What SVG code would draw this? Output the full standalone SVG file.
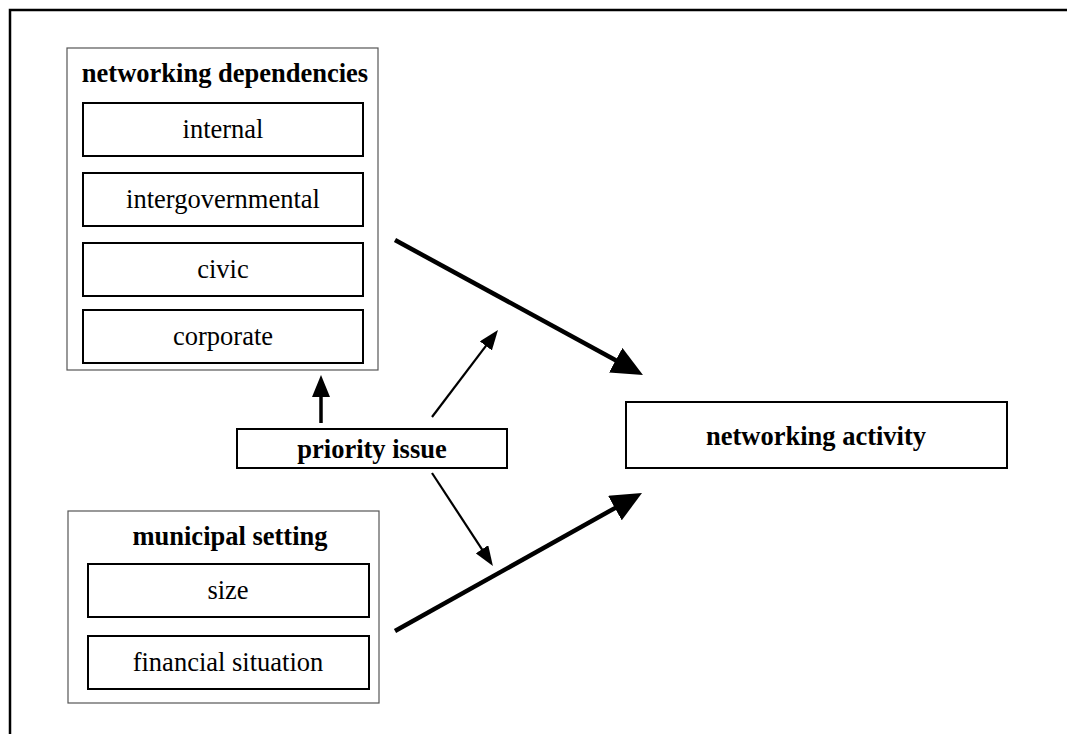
<svg xmlns="http://www.w3.org/2000/svg" width="1067" height="734" viewBox="0 0 1067 734">
<style>
.frame{fill:none;stroke:#000;stroke-width:2.5}
.group{fill:#fff;stroke:#555;stroke-width:1.2}
.box{fill:#fff;stroke:#000;stroke-width:2}
.t{font-family:"Liberation Serif","Times New Roman",serif;font-size:26.5px;text-anchor:middle;fill:#000}
.b{font-weight:bold}
.c{stroke:#000;fill:none}
</style>
<defs>
<marker id="hThick" markerUnits="userSpaceOnUse" viewBox="0 -14 31 28" markerWidth="31" markerHeight="28" refX="1" refY="0" orient="auto"><path d="M0,-14 L31,0 L0,14 z" fill="#000"/></marker>
<marker id="hMed" markerUnits="userSpaceOnUse" viewBox="0 -9 22 18" markerWidth="22" markerHeight="18" refX="1" refY="0" orient="auto"><path d="M0,-9 L22,0 L0,9 z" fill="#000"/></marker>
<marker id="hThin" markerUnits="userSpaceOnUse" viewBox="0 -7.5 20 15" markerWidth="20" markerHeight="15" refX="1" refY="0" orient="auto"><path d="M0,-7.5 L20,0 L0,7.5 z" fill="#000"/></marker>
</defs>
<rect width="1067" height="734" fill="#fff"/>
<path class="frame" d="M10,734 V10 H1067"/>

<g id="networking-dependencies">
<rect class="group" x="67" y="48" width="311" height="322"/>
<text class="t b" x="225" y="82">networking dependencies</text>
<g id="internal"><rect class="box" x="83" y="103" width="280" height="53"/><text class="t" x="223" y="138">internal</text></g>
<g id="intergovernmental"><rect class="box" x="83" y="173" width="280" height="53"/><text class="t" x="223" y="208">intergovernmental</text></g>
<g id="civic"><rect class="box" x="83" y="243" width="280" height="53"/><text class="t" x="223" y="278">civic</text></g>
<g id="corporate"><rect class="box" x="83" y="310" width="280" height="53"/><text class="t" x="223" y="345">corporate</text></g>
</g>

<g id="priority-issue">
<rect class="box" x="237" y="429" width="270" height="39"/>
<text class="t b" x="372" y="458">priority issue</text>
</g>

<g id="networking-activity">
<rect class="box" x="626" y="402" width="381" height="66"/>
<text class="t b" x="816" y="445">networking activity</text>
</g>

<g id="municipal-setting">
<rect class="group" x="68" y="511" width="311" height="192"/>
<text class="t b" x="230" y="545">municipal setting</text>
<g id="size"><rect class="box" x="88" y="564" width="281" height="53"/><text class="t" x="228" y="599">size</text></g>
<g id="financial-situation"><rect class="box" x="88" y="636" width="281" height="53"/><text class="t" x="228" y="671">financial situation</text></g>
</g>

<g id="connectors">
<line class="c" x1="395" y1="240" x2="616.6" y2="360.7" stroke-width="4.5" marker-end="url(#hThick)"/>
<line class="c" x1="395" y1="631" x2="615.8" y2="507.6" stroke-width="4.5" marker-end="url(#hThick)"/>
<line class="c" x1="321" y1="423" x2="321" y2="396" stroke-width="3.5" marker-end="url(#hMed)"/>
<line class="c" x1="432" y1="417" x2="486.5" y2="345.1" stroke-width="2.2" marker-end="url(#hThin)"/>
<line class="c" x1="432" y1="473" x2="482.5" y2="550.1" stroke-width="2.2" marker-end="url(#hThin)"/>
</g>
</svg>
